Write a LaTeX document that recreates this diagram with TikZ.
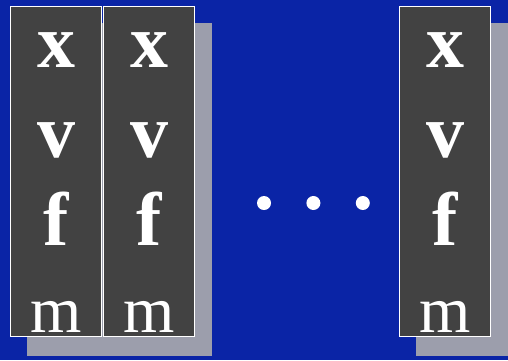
\documentclass[tikz,border=0pt]{standalone}
\usepackage{fontspec}
\setmainfont{Liberation Serif}
\usepackage{xcolor}
\usetikzlibrary{positioning}
\definecolor{slideblue}{HTML}{0A24A6}
\definecolor{slidegray}{HTML}{424242}
\definecolor{slideshadow}{HTML}{9C9EAC}

\begin{document}
\begin{tikzpicture}[
  x=1pt, y=-1pt,
  column/.style={draw=white, line width=1.2pt, fill=slidegray, minimum width=91pt, minimum height=330pt, inner sep=0pt},
  shade/.style={fill=slideshadow},
  glyph/.style={text=white, font=\bfseries\fontsize{76}{76}\selectfont, inner sep=0pt, anchor=base},
  glyphm/.style={glyph, font=\fontsize{66}{66}\selectfont},
  dot/.style={circle, fill=white, minimum size=14pt, inner sep=0pt}
]
\fill[slideblue] (0,0) rectangle (508,360);
\useasboundingbox (0,0) rectangle (508,360);

% shadows behind the columns
\fill[shade] (27,23) rectangle (212,356);
\fill[shade] (416,23) rectangle (508,356);

\node[column, anchor=north west] (colA) at (10,6) {};
\node[column, right=1pt of colA] (colB) {};
\node[column, anchor=north west] (colC) at (399,6) {};

\node[glyph] (xA) at ([yshift=-61pt]colA.north) {x};
\node[glyph] (vA) at ([yshift=-151pt]colA.north) {v};
\node[glyph] (fA) at ([yshift=-239pt]colA.north) {f};
\node[glyphm] (mA) at ([yshift=-326pt]colA.north) {m};

\node[glyph] (xB) at ([yshift=-61pt]colB.north) {x};
\node[glyph] (vB) at ([yshift=-151pt]colB.north) {v};
\node[glyph] (fB) at ([yshift=-239pt]colB.north) {f};
\node[glyphm] (mB) at ([yshift=-326pt]colB.north) {m};

\node[glyph] (xC) at ([yshift=-61pt]colC.north) {x};
\node[glyph] (vC) at ([yshift=-151pt]colC.north) {v};
\node[glyph] (fC) at ([yshift=-239pt]colC.north) {f};
\node[glyphm] (mC) at ([yshift=-326pt]colC.north) {m};

% the gap
\node[dot] (dotA) at (264,203) {};
\node[dot, right=35pt of dotA] (dotB) {};
\node[dot, right=35pt of dotB] (dotC) {};
\end{tikzpicture}
\end{document}
